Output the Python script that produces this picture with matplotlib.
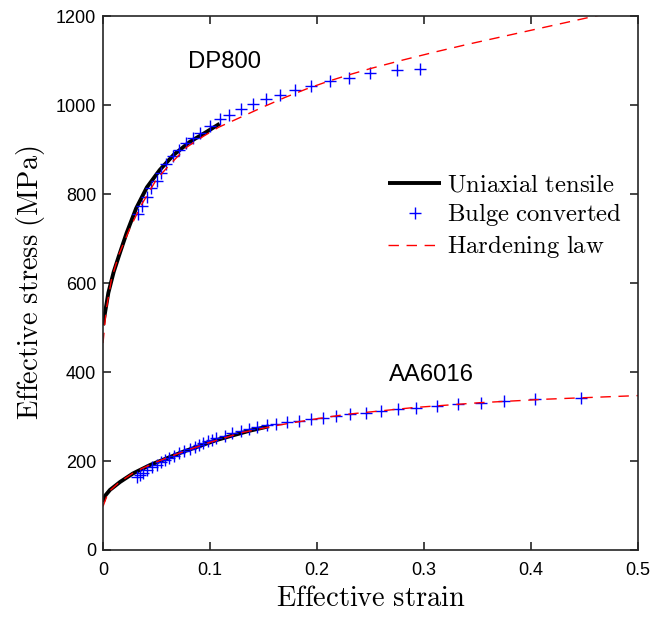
import matplotlib
matplotlib.use("Agg")
import matplotlib.pyplot as plt
from matplotlib.lines import Line2D

plt.rcParams['mathtext.fontset'] = 'cm'
plt.rcParams['font.family'] = ['Liberation Sans', 'DejaVu Sans']

# DP800 uniaxial tensile curve
dp_uni_x = [0, 0.002, 0.005, 0.010, 0.015, 0.022, 0.031, 0.041, 0.053, 0.066, 0.081, 0.097, 0.109]
dp_uni_y = [505, 535, 578, 625, 662, 712, 768, 815, 854, 888, 917, 940, 958]

# DP800 bulge converted points
dp_bulge_x = [0.033, 0.036, 0.041, 0.045, 0.050, 0.054, 0.059, 0.065, 0.071, 0.078,
              0.084, 0.091, 0.100, 0.109, 0.118, 0.129, 0.140, 0.152, 0.165, 0.179,
              0.194, 0.212, 0.230, 0.250, 0.275, 0.296]
dp_bulge_y = [754, 773, 793, 813, 830, 848, 867, 885, 900, 914,
              927, 938, 953, 968, 978, 990, 1002, 1013, 1023, 1034,
              1043, 1055, 1061, 1071, 1078, 1081]

# DP800 hardening law
dp_law_x = [0, 0.003, 0.008, 0.015, 0.025, 0.035, 0.05, 0.062, 0.078, 0.094, 0.108,
            0.13, 0.15, 0.17, 0.19, 0.21, 0.23, 0.25, 0.28, 0.31, 0.34, 0.37,
            0.40, 0.43, 0.46, 0.47]
dp_law_y = [465, 540, 610, 665, 722, 772, 833, 865, 905, 930, 950,
            974, 996, 1017, 1036, 1053, 1068, 1082, 1101, 1119, 1136, 1152,
            1168, 1184, 1200, 1205]

# AA6016 uniaxial tensile curve
aa_uni_x = [0, 0.002, 0.0065, 0.016, 0.028, 0.044, 0.0595, 0.075, 0.0907, 0.106, 0.122, 0.137, 0.155]
aa_uni_y = [108, 122, 135, 153, 172, 191, 206, 221, 234, 247, 258, 268, 278]

# AA6016 bulge converted points
aa_bulge_x = [0.0315, 0.0346, 0.0377, 0.0408, 0.0455, 0.0502, 0.0542, 0.058, 0.062, 0.0666,
              0.071, 0.076, 0.0813, 0.086, 0.0897, 0.0937, 0.0984, 0.102, 0.106, 0.114,
              0.121, 0.1287, 0.136, 0.144, 0.153, 0.162, 0.1717, 0.1835, 0.194, 0.206,
              0.218, 0.231, 0.246, 0.260, 0.276, 0.293, 0.312, 0.332, 0.353, 0.375,
              0.404, 0.447]
aa_bulge_y = [163, 168, 174, 179, 186, 192, 197, 202, 207, 212,
              217, 222, 228, 232, 236, 240, 244, 247, 251, 257,
              262, 267, 272, 276, 280, 284, 287, 290, 294, 297,
              302, 306, 309, 312, 316, 320, 324, 327, 331, 335,
              339, 341]

# AA6016 hardening law
aa_law_x = [0, 0.005, 0.015, 0.03, 0.05, 0.075, 0.1, 0.13, 0.165, 0.2, 0.228, 0.29, 0.352, 0.415, 0.5]
aa_law_y = [98, 130, 152, 176, 198, 221, 242, 264, 281, 295, 305, 320, 331, 339, 347]

fig = plt.figure(figsize=(6.54, 6.17), dpi=100)
ax = fig.add_axes([0.1575, 0.1086, 0.818, 0.8654])

uni_style = dict(color='black', lw=2.8, solid_capstyle='butt')
bulge_style = dict(ls='none', marker='+', ms=9, mew=1.0, color='blue')
law_style = dict(color='red', lw=1.0, ls=(0, (7.5, 5.5)))

ax.plot(dp_uni_x, dp_uni_y, **uni_style)
ax.plot(aa_uni_x, aa_uni_y, **uni_style)
ax.plot(dp_bulge_x, dp_bulge_y, **bulge_style)
ax.plot(aa_bulge_x, aa_bulge_y, **bulge_style)
ax.plot(dp_law_x, dp_law_y, **law_style)
ax.plot(aa_law_x, aa_law_y, **law_style)

ax.text(0.1136, 1096, 'DP800', fontsize=17.2, ha='center', va='center')
ax.text(0.307, 393, 'AA6016', fontsize=17.2, ha='center', va='center')

ax.set_xlim(0, 0.5)
ax.set_ylim(0, 1200)
ax.set_xticks([0, 0.1, 0.2, 0.3, 0.4, 0.5])
ax.set_xticklabels(['0', '0.1', '0.2', '0.3', '0.4', '0.5'])
ax.set_yticks([0, 200, 400, 600, 800, 1000, 1200])
ax.tick_params(direction='in', length=6, width=1.2, top=True, right=True,
               labelsize=13, pad=5, colors='#262626', labelcolor='black')
ax.tick_params(axis='x', pad=9)
for s in ax.spines.values():
    s.set_linewidth(1.2)
    s.set_color('#262626')

ax.set_xlabel(r'$\mathrm{Effective\ strain}$', fontsize=20.5, labelpad=5)
ax.set_ylabel(r'$\mathrm{Effective\ stress\ (MPa)}$', fontsize=20.5, labelpad=6)

handles = [Line2D([], [], **uni_style),
           Line2D([], [], **bulge_style),
           Line2D([], [], **law_style)]
labels = [r'$\mathrm{Uniaxial\ tensile}$', r'$\mathrm{Bulge\ converted}$', r'$\mathrm{Hardening\ law}$']
ax.legend(handles, labels, loc='upper left', bbox_to_anchor=(0.533, 0.707), frameon=False,
          fontsize=17.8, handlelength=2.15, handletextpad=0.25, labelspacing=0.2,
          borderaxespad=0, borderpad=0)

fig.savefig('out.png', dpi=100)
